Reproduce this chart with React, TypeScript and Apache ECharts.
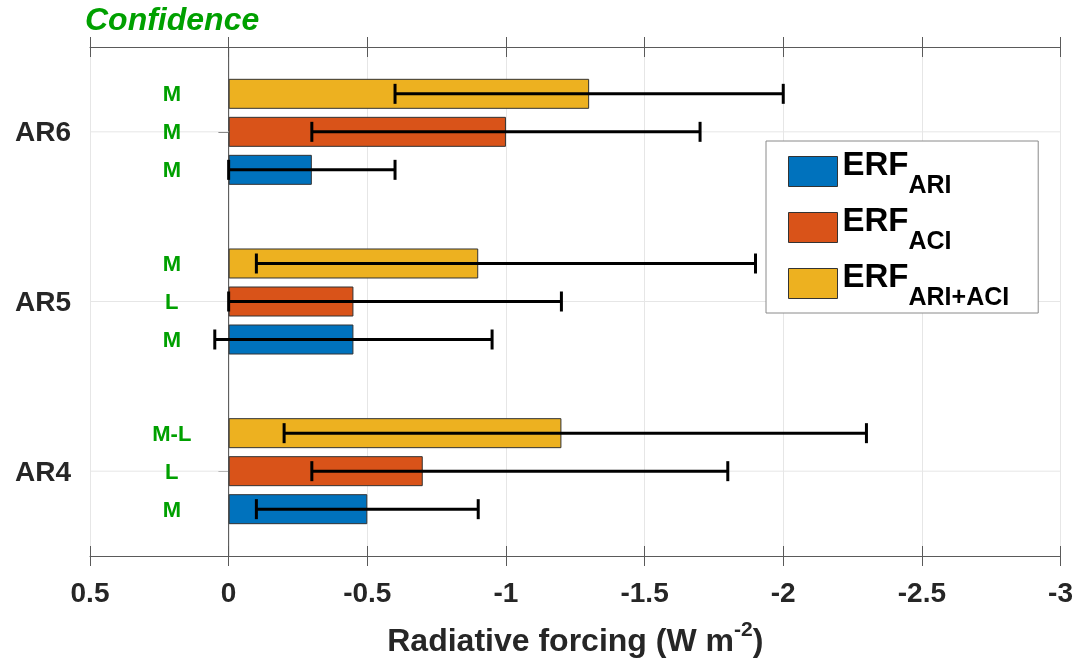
import React, { useEffect, useRef } from "react";
import * as echarts from "echarts";

const categories = ["AR4", "AR5", "AR6"];
const seriesNames = ["ARI", "ACI", "ARI+ACI"];
const seriesColors = ["#0072BD", "#D95319", "#EDB120"];

// best estimates (W m-2), per category AR4, AR5, AR6
const ariValues = [-0.5, -0.45, -0.3];
const aciValues = [-0.7, -0.45, -1.0];
const totalValues = [-1.2, -0.9, -1.3];

// uncertainty ranges [low end, high end]
const ariRanges = [[-0.1, -0.9], [0.05, -0.95], [0.0, -0.6]];
const aciRanges = [[-0.3, -1.8], [0.0, -1.2], [-0.3, -1.7]];
const totalRanges = [[-0.2, -2.3], [-0.1, -1.9], [-0.6, -2.0]];

// confidence levels
const ariConfidence = ["M", "M", "M"];
const aciConfidence = ["L", "L", "M"];
const totalConfidence = ["M-L", "M", "M"];

const xTicks = { min: -3, max: 0.5, interval: 0.5 };

const FONT = "'Liberation Sans', Arial, Helvetica, sans-serif";
const GREEN = "#00a000";
const BAR_STEP = 38; // pixel step between grouped bars (barWidth 30 + gap 8)

export default function App() {
  const ref = useRef<HTMLDivElement>(null);

  useEffect(() => {
    if (!ref.current) return;
    const chart = echarts.init(ref.current, undefined, { renderer: "svg" });

    const values = [ariValues, aciValues, totalValues];
    const ranges = [ariRanges, aciRanges, totalRanges];
    const confs = [ariConfidence, aciConfidence, totalConfidence];

    const errData: any[] = [];
    const confData: any[] = [];
    ranges.forEach((r, s) =>
      r.forEach((pair, c) => errData.push([pair[0], pair[1], c, s]))
    );
    confs.forEach((arr, s) =>
      arr.forEach((lab, c) => confData.push([0.205, c, s, lab]))
    );

    const xBase = {
      type: "value",
      min: xTicks.min,
      max: xTicks.max,
      interval: xTicks.interval,
      inverse: true,
    };
    const yBase = {
      type: "category",
      data: categories,
    };
    const xLine = { lineStyle: { color: "#5a5a5a", width: 1 } };
    const yLine = { lineStyle: { color: "#9a9a9a", width: 1 } };

    // first bar series is drawn at the top of each band, so place ARI+ACI first
    const barOrder = [2, 1, 0];

    const option: any = {
      animation: false,
      textStyle: { fontFamily: FONT },
      title: {
        text: "Confidence",
        left: 85,
        top: 3,
        padding: 0,
        textStyle: {
          fontFamily: FONT,
          fontSize: 32,
          fontStyle: "italic",
          fontWeight: "bold",
          color: GREEN,
        },
      },
      grid: { left: 90, right: 15, top: 47, bottom: 108 },
      legend: {
        orient: "vertical",
        left: 766,
        top: 141,
        padding: [6, 29, 5, 22],
        itemWidth: 49,
        itemHeight: 30,
        itemGap: 7,
        icon: "rect",
        backgroundColor: "#ffffff",
        borderColor: "#8a8a8a",
        borderWidth: 1,
        data: seriesNames,
        itemStyle: { borderColor: "#333333", borderWidth: 1 },
        formatter: (name: string) => `{a|ERF}{b|${name}}`,
        textStyle: {
          rich: {
            a: {
              fontFamily: FONT,
              fontSize: 33,
              fontWeight: "bold",
              color: "#000",
              lineHeight: 35,
              verticalAlign: "top",
            },
            b: {
              fontFamily: FONT,
              fontSize: 25,
              fontWeight: "bold",
              color: "#000",
              verticalAlign: "top",
              padding: [24, 0, 0, 0],
            },
          },
        },
      },
      xAxis: [
        {
          ...xBase,
          position: "bottom",
          axisLine: { show: true, ...xLine },
          axisTick: { show: true, inside: false, length: 10, ...xLine },
          splitLine: { show: true, lineStyle: { color: "#e6e6e6", width: 1 } },
          axisLabel: {
            fontFamily: FONT,
            fontSize: 28,
            fontWeight: "bold",
            color: "#262626",
            margin: 22,
          },
          name: "{n|Radiative forcing (W m}{s|-2}{n|)}",
          nameLocation: "middle",
          nameGap: 62,
          nameTextStyle: {
            rich: {
              n: {
                fontFamily: FONT,
                fontSize: 32,
                fontWeight: "bold",
                color: "#262626",
              },
              s: {
                fontFamily: FONT,
                fontSize: 21,
                fontWeight: "bold",
                color: "#262626",
                padding: [0, 0, 22, 0],
              },
            },
          },
        },
        {
          ...xBase,
          position: "bottom",
          axisLine: { show: false },
          axisTick: { show: true, inside: true, length: 10, ...xLine },
          splitLine: { show: false },
          axisLabel: { show: false },
        },
        {
          ...xBase,
          position: "top",
          axisLine: { show: true, ...xLine },
          axisTick: { show: true, inside: true, length: 10, ...xLine },
          splitLine: { show: false },
          axisLabel: { show: false },
        },
        {
          ...xBase,
          position: "top",
          axisLine: { show: false },
          axisTick: { show: true, inside: false, length: 10, ...xLine },
          splitLine: { show: false },
          axisLabel: { show: false },
        },
      ],
      yAxis: [
        {
          ...yBase,
          position: "left",
          axisLine: { show: true, ...yLine },
          axisTick: { show: true, alignWithLabel: true, inside: false, length: 10, ...xLine },
          splitLine: { show: false },
          axisLabel: {
            fontFamily: FONT,
            fontSize: 28,
            fontWeight: "bold",
            color: "#262626",
            margin: 19,
          },
        },
        {
          ...yBase,
          position: "left",
          axisLine: { show: false },
          axisTick: { show: true, alignWithLabel: true, inside: true, length: 10, ...xLine },
          splitLine: { show: false },
          axisLabel: { show: false },
        },
        {
          ...yBase,
          position: "right",
          axisLine: { show: true, ...yLine },
          axisTick: { show: true, alignWithLabel: true, inside: true, length: 10, ...xLine },
          splitLine: { show: false },
          axisLabel: { show: false },
        },
        {
          ...yBase,
          position: "right",
          axisLine: { show: false },
          axisTick: { show: true, alignWithLabel: true, inside: false, length: 10, ...xLine },
          splitLine: { show: false },
          axisLabel: { show: false },
        },
      ],
      series: [
        {
          type: "custom",
          name: "grid-h",
          z: 1,
          silent: true,
          data: categories.map((_, i) => [i]),
          encode: { y: 0 },
          renderItem: (params: any, api: any) => {
            const cs = params.coordSys;
            const y = api.coord([0, api.value(0)])[1];
            const x0 = api.coord([0, api.value(0)])[0];
            const children: any[] = [
              {
                type: "line",
                shape: { x1: cs.x, y1: y, x2: cs.x + cs.width, y2: y },
                style: { stroke: "#e6e6e6", lineWidth: 1 },
              },
            ];
            if (params.dataIndex === 0) {
              children.push({
                type: "line",
                shape: { x1: x0, y1: cs.y, x2: x0, y2: cs.y + cs.height },
                style: { stroke: "#555555", lineWidth: 1 },
              });
            }
            return { type: "group", children };
          },
        },
        ...barOrder.map((s) => ({
          type: "bar",
          name: seriesNames[s],
          data: values[s],
          barWidth: 30,
          barGap: "26.7%",
          z: 2,
          itemStyle: {
            color: seriesColors[s],
            borderColor: "#333333",
            borderWidth: 1,
          },
        })),
        {
          type: "custom",
          name: "errors",
          z: 5,
          silent: true,
          data: errData,
          encode: { x: [0, 1], y: 2 },
          renderItem: (params: any, api: any) => {
            const s = api.value(3);
            const c = api.value(2);
            const off = (1 - s) * BAR_STEP;
            const p1 = api.coord([api.value(0), c]);
            const p2 = api.coord([api.value(1), c]);
            const y = p1[1] + off;
            const st = { stroke: "#000", lineWidth: 3 };
            return {
              type: "group",
              children: [
                { type: "line", shape: { x1: p1[0], y1: y, x2: p2[0], y2: y }, style: st },
                { type: "line", shape: { x1: p1[0], y1: y - 10, x2: p1[0], y2: y + 10 }, style: st },
                { type: "line", shape: { x1: p2[0], y1: y - 10, x2: p2[0], y2: y + 10 }, style: st },
              ],
            };
          },
        },
        {
          type: "custom",
          name: "confidence",
          z: 5,
          silent: true,
          data: confData,
          encode: { x: 0, y: 1 },
          renderItem: (params: any, api: any) => {
            const d = confData[params.dataIndex];
            const p = api.coord([d[0], d[1]]);
            const off = (1 - d[2]) * BAR_STEP;
            return {
              type: "text",
              x: p[0],
              y: p[1] + off,
              style: {
                text: d[3],
                fontFamily: FONT,
                fontSize: 22,
                fontWeight: "bold",
                fill: GREEN,
                align: "center",
                verticalAlign: "middle",
              },
            };
          },
        },
      ],
    };

    chart.setOption(option);
    return () => chart.dispose();
  }, []);

  return (
    <div
      ref={ref}
      style={{ position: "fixed", left: 0, top: 0, width: 1076, height: 664 }}
    />
  );
}
